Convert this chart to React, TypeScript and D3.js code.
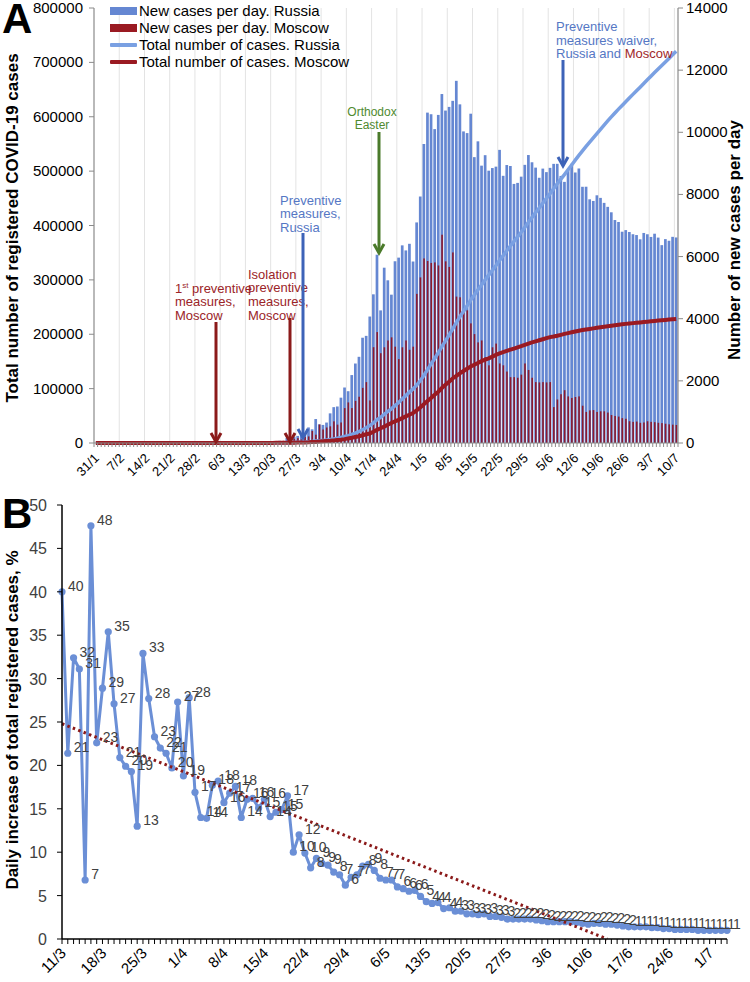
import React from 'react';
import * as d3 from 'd3';

// ---------- Panel A data ----------
const aTickLabels = ['31/1','7/2','14/2','21/2','28/2','6/3','13/3','20/3','27/3','3/4','10/4','17/4','24/4','1/5','8/5','15/5','22/5','29/5','5/6','12/6','19/6','26/6','3/7','10/7'];

// new cases per day, Russia (31/1 .. 10/7)
const russiaNew = [2,
0,0,0,0,0,0,0,0,0,0,0,0,0,0,0,0,0,0,0,0,0,0,0,0,0,0,0,0,0,
1,0,0,0,1,6,4,3,3,8,
6,11,14,4,30,21,33,52,54,53,61,71,57,163,182,196,228,270,302,501,440,
771,601,582,658,954,1154,1175,1459,1786,1667,2186,2558,2774,3388,3448,4070,4785,6060,4268,5642,5236,4774,5849,5966,6361,6198,6411,5841,7099,7933,
9623,10633,10581,10102,10559,11231,10699,10817,11012,11656,10899,10028,9974,10598,9200,9709,8926,9263,8764,8849,8894,9434,8599,8946,8915,8338,8371,8572,8952,9268,9035,
8863,8536,8831,8718,8855,8984,8985,8595,8404,8779,8987,8706,8835,8246,8248,7843,7790,7972,7889,7728,7600,7425,7176,7113,6800,6852,6791,6719,6693,6556,
6760,6718,6632,6736,6611,6368,6562,6509,6635,6615];

// new cases per day, Moscow (31/1 .. 10/7)
const moscowNew = [0,
0,0,0,0,0,0,0,0,0,0,0,0,0,0,0,0,0,0,0,0,0,0,0,0,0,0,0,0,0,
0,0,0,0,1,4,2,1,1,5,
3,5,10,2,18,17,24,29,33,39,44,54,71,45,120,136,157,114,197,212,387,
267,595,434,499,536,697,591,660,1124,1306,1124,1355,1489,1774,1959,1370,3083,3570,2890,3080,3300,3400,3100,2700,3080,3300,3000,3100,4800,5330,
5940,5858,5795,5812,5714,6703,5846,5667,6133,4712,4690,4268,4270,3850,3505,3238,3300,2760,2500,3080,3200,2560,2500,2300,2120,2120,2100,2200,2560,2350,2100,
1960,1950,1960,1950,1960,1156,1400,1570,1700,1500,1450,1480,1500,1200,1000,1050,1060,1000,1020,1020,980,900,870,850,800,780,700,680,690,650,
660,700,680,670,650,640,620,600,590,580];

const leftTicks = [0,100000,200000,300000,400000,500000,600000,700000,800000];
const rightTicks = [0,2000,4000,6000,8000,10000,12000,14000];
const legendItems = [
  { label: 'New cases per day. Russia', kind: 'bar', color: '#6587d2' },
  { label: 'New cases per day. Moscow', kind: 'bar', color: '#9a1a22' },
  { label: 'Total number of cases. Russia', kind: 'line', color: '#7aa0e2' },
  { label: 'Total number of cases. Moscow', kind: 'line', color: '#9a1a22' },
];

// ---------- Panel B data ----------
const bTickLabels = ['11/3','18/3','25/3','1/4','8/4','15/4','22/4','29/4','6/5','13/5','20/5','27/5','3/6','10/6','17/6','24/6','1/7'];
// daily increase of total registered cases, % (11/3 .. 4/7)
const dailyIncrease = [
40.0,21.4,32.4,31.1,6.8,47.6,22.6,28.9,35.4,27.1,
20.9,19.9,19.3,13.0,32.9,27.7,23.3,22.0,21.4,19.7,
27.3,18.8,27.8,16.9,14.0,13.9,17.7,18.2,15.7,16.8,
17.6,14.0,16.1,16.2,15.1,16.1,14.1,14.6,14.9,16.5,
10.0,12.0,9.9,8.2,9.3,8.7,8.5,7.7,7.4,6.2,
7.1,7.4,8.4,8.6,7.9,7.0,6.8,6.8,6.0,5.8,
5.5,5.6,4.9,4.3,4.1,4.2,3.5,3.6,3.2,3.2,
2.9,2.9,2.8,2.9,2.6,2.6,2.5,2.3,2.3,2.3,
2.3,2.3,2.2,2.1,2.0,2.0,2.0,2.0,2.0,1.9,
1.8,1.7,1.8,1.8,1.7,1.7,1.6,1.5,1.4,1.4,
1.4,1.4,1.3,1.3,1.2,1.2,1.1,1.1,1.1,1.1,
1.0,1.0,1.0,1.0,1.0,1.0];
const bYTicks = [0,5,10,15,20,25,30,35,40,45,50];
// linear trend line: value at day 0 and the day where it reaches 0
const trendDays = [0, 94.3];
const trendValues = [24.8, 0];

const FONT = "Arial, 'Liberation Sans', sans-serif";

function Arrow({ x, y1, y2, color }: { x: number; y1: number; y2: number; color: string }) {
  return (
    <g stroke={color} strokeWidth={3} fill="none">
      <line x1={x} y1={y1} x2={x} y2={y2 - 1} />
      <path d={`M${x - 5},${y2 - 9} L${x},${y2} L${x + 5},${y2 - 9}`} strokeLinejoin="miter" />
    </g>
  );
}

export default function App() {
  // ----- Panel A scales -----
  const nDays = russiaNew.length;
  const aL = 94, aR = 678, aT = 8, aB = 443;
  const xA = d3.scaleLinear().domain([0, nDays]).range([aL, aR]);
  const yL = d3.scaleLinear().domain([0, 800000]).range([aB, aT]);
  const yR = d3.scaleLinear().domain([0, 14000]).range([aB, aT]);
  const step = xA(1) - xA(0);
  const russiaTotal = Array.from(d3.cumsum(russiaNew));
  const moscowTotal = Array.from(d3.cumsum(moscowNew));
  const lineA = d3.line<number>().x((_, i) => xA(i + 0.5)).y((v) => yL(v));

  // ----- Panel B scales -----
  const nB = dailyIncrease.length;
  const bL = 62, bR = 727, bT = 505, bB = 939;
  const xB = d3.scaleLinear().domain([0, nB - 1]).range([bL, bR]);
  const yB = d3.scaleLinear().domain([0, 50]).range([bB, bT]);
  const lineB = d3.line<number>().x((_, i) => xB(i)).y((v) => yB(v));
  const fmt = d3.format('.0f');

  const red = '#9a1a22';
  const redText = '#9b2428';
  const blueArrow = '#3d63b8';
  const blueText = '#5577c4';

  return (
    <svg width={750} height={982} style={{ position: 'absolute', left: 0, top: 0 }} fontFamily={FONT}>
      <rect width={750} height={982} fill="#fff" />
      {/* ================= PANEL A ================= */}
      {d3.range(1, 24).map((k) => (
        <line key={'g' + k} x1={xA(7 * k)} x2={xA(7 * k)} y1={aT} y2={aB} stroke="#e3e3e3" strokeWidth={1} />
      ))}
      {russiaNew.map((v, i) => (
        <rect key={'rb' + i} x={xA(i) + 0.45} width={step - 0.9} y={yR(v)} height={aB - yR(v)} fill="#6587d2" />
      ))}
      {moscowNew.map((v, i) => (
        <rect key={'mb' + i} x={xA(i) + 1.2} width={1.6} y={yR(v)} height={aB - yR(v)} fill="#8e1a2c" />
      ))}
      <path d={lineA(russiaTotal) || ''} fill="none" stroke="#7aa0e2" strokeWidth={3.5} />
      <path d={lineA(moscowTotal) || ''} fill="none" stroke={red} strokeWidth={4} />

      <line x1={aL} x2={aL} y1={aT} y2={aB} stroke="#8a8a8a" strokeWidth={1.2} />
      <line x1={aR} x2={aR} y1={aT} y2={aB} stroke="#8a8a8a" strokeWidth={1.2} />
      <line x1={aL} x2={aR} y1={aB} y2={aB} stroke="#8a8a8a" strokeWidth={1.2} />
      {d3.range(0, nDays + 1).map((i) => (
        <line key={'mt' + i} x1={xA(i)} x2={xA(i)} y1={aB} y2={aB + 4} stroke="#8a8a8a" strokeWidth={1} />
      ))}
      {leftTicks.map((t) => (
        <g key={'lt' + t}>
          <line x1={aL - 5} x2={aL} y1={yL(t)} y2={yL(t)} stroke="#8a8a8a" />
          <text x={aL - 11} y={yL(t) + 5} textAnchor="end" fontSize={15} fill="#000">{t}</text>
        </g>
      ))}
      {rightTicks.map((t) => (
        <g key={'rt' + t}>
          <line x1={aR} x2={aR + 5} y1={yR(t)} y2={yR(t)} stroke="#8a8a8a" />
          <text x={aR + 8} y={yR(t) + 5} textAnchor="start" fontSize={15} fill="#000">{t}</text>
        </g>
      ))}
      {aTickLabels.map((lab, k) => {
        const x = xA(7 * k + 0.5);
        return (
          <text key={'al' + k} transform={`translate(${x + 4},${aB + 16}) rotate(-45)`} textAnchor="end" fontSize={13} fill="#000">{lab}</text>
        );
      })}
      <text transform={`translate(18,228) rotate(-90)`} textAnchor="middle" fontSize={17} fontWeight="bold">Total number of registered COVID-19 cases</text>
      <text transform={`translate(740,240) rotate(-90)`} textAnchor="middle" fontSize={17} fontWeight="bold">Number of new cases per day</text>
      <text x={2} y={33} fontSize={42} fontWeight="bold">A</text>

      {legendItems.map((it, i) => {
        const cy = 11 + i * 17;
        return (
          <g key={'lg' + i}>
            {it.kind === 'bar'
              ? <rect x={110} y={cy - 4} width={27} height={8} fill={it.color} />
              : <rect x={110} y={cy - 2} width={27} height={4} fill={it.color} rx={1} />}
            <text x={139} y={cy + 5} fontSize={15} fill="#000">{it.label}</text>
          </g>
        );
      })}

      {/* annotations */}
      <g fontSize={13} fill={redText}>
        <text x={175} y={293}>1<tspan fontSize={8} dy={-5}>st</tspan><tspan dy={5}> preventive</tspan></text>
        <text x={175} y={306}>measures,</text>
        <text x={175} y={320}>Moscow</text>
      </g>
      <Arrow x={216} y1={322} y2={442} color="#8b1a1a" />
      <g fontSize={13} fill={redText}>
        <text x={248} y={279}>Isolation</text>
        <text x={248} y={292}>preventive</text>
        <text x={248} y={306}>measures,</text>
        <text x={248} y={320}>Moscow</text>
      </g>
      <Arrow x={290} y1={318} y2={442} color="#8b1a1a" />
      <g fontSize={13} fill={blueText}>
        <text x={280} y={205}>Preventive</text>
        <text x={280} y={218}>measures,</text>
        <text x={280} y={232}>Russia</text>
      </g>
      <Arrow x={303} y1={233} y2={438} color={blueArrow} />
      <g fontSize={12} fill="#4f8a2f" textAnchor="middle">
        <text x={372} y={116}>Orthodox</text>
        <text x={372} y={129}>Easter</text>
      </g>
      <Arrow x={379} y1={132} y2={253} color="#4a7a2a" />
      <g fontSize={13} fill={blueText}>
        <text x={556} y={31}>Preventive</text>
        <text x={556} y={45}>measures  waiver,</text>
        <text x={556} y={58}>Russia and <tspan fill="#a0282a">Moscow</tspan></text>
      </g>
      <Arrow x={563} y1={60} y2={166} color={blueArrow} />

      {/* ================= PANEL B ================= */}
      <text x={2} y={528} fontSize={42} fontWeight="bold">B</text>
      <path d={lineB(dailyIncrease) || ''} fill="none" stroke="#6b8fd6" strokeWidth={3} strokeLinejoin="round" />
      {dailyIncrease.map((v, i) => (
        <circle key={'bp' + i} cx={xB(i)} cy={yB(v)} r={3.6} fill="#6b8fd6" />
      ))}
      <line x1={xB(trendDays[0])} y1={yB(trendValues[0])} x2={xB(trendDays[1])} y2={yB(trendValues[1])}
        stroke="#8b1a1a" strokeWidth={3} strokeDasharray="2.5 3.3" />
      {dailyIncrease.map((v, i) => (
        <text key={'bl' + i} x={xB(i) + 6} y={yB(v) - 1} fontSize={14} fill="#404040">{fmt(v)}</text>
      ))}
      <line x1={bL} x2={bL} y1={bT} y2={bB} stroke="#000" strokeWidth={1.5} />
      <line x1={bL} x2={bR} y1={bB} y2={bB} stroke="#000" strokeWidth={1.5} />
      {d3.range(0, nB).map((i) => (
        <line key={'bt' + i} x1={xB(i)} x2={xB(i)} y1={bB} y2={bB + 5} stroke="#000" strokeWidth={1} />
      ))}
      {bYTicks.map((t) => (
        <g key={'by' + t}>
          <line x1={bL - 5} x2={bL} y1={yB(t)} y2={yB(t)} stroke="#000" />
          <text x={47} y={yB(t) + 6} textAnchor="end" fontSize={16} fill="#404040">{t}</text>
        </g>
      ))}
      {bTickLabels.map((lab, k) => {
        const x = xB(7 * k);
        return (
          <text key={'bx' + k} transform={`translate(${x + 5},${bB + 15}) rotate(-45)`} textAnchor="end" fontSize={15} fill="#000">{lab}</text>
        );
      })}
      <text transform={`translate(18,720) rotate(-90)`} textAnchor="middle" fontSize={17} fontWeight="bold">Daily increase of total registered cases, %</text>
    </svg>
  );
}
